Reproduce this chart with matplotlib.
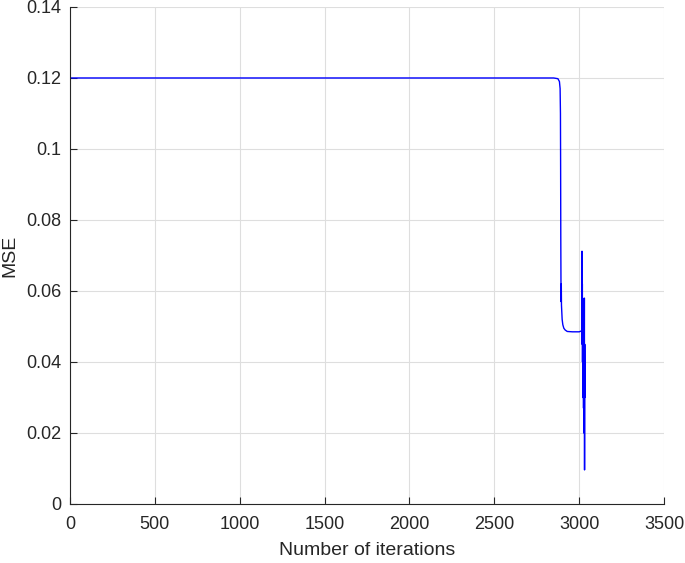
import matplotlib
matplotlib.use("Agg")
import matplotlib.pyplot as plt

# MSE vs iteration
iters = [0, 500, 1000, 1500, 2000, 2500, 2850, 2875, 2884, 2888, 2890,
         2891, 2892, 2893, 2894, 2895, 2896, 2898, 2900, 2904, 2910,
         2918, 2930, 2960, 3000, 3012,
         3016, 3017, 3018, 3019, 3020, 3021, 3022, 3023, 3024, 3025,
         3026, 3027, 3028, 3029, 3030, 3031, 3032, 3033, 3034, 3035]
mse = [0.12, 0.12, 0.12, 0.12, 0.12, 0.12, 0.12, 0.1198, 0.119, 0.117, 0.11,
       0.095, 0.075, 0.063, 0.057, 0.062, 0.056, 0.054, 0.052, 0.0505, 0.0495,
       0.049, 0.0486, 0.0485, 0.0485, 0.0487,
       0.049, 0.0712, 0.045, 0.062, 0.040, 0.058, 0.030, 0.056, 0.035, 0.057,
       0.027, 0.055, 0.020, 0.052, 0.035, 0.058, 0.0096, 0.045, 0.030, 0.0335]

xticks = [0, 500, 1000, 1500, 2000, 2500, 3000, 3500]
yticks = [0, 0.02, 0.04, 0.06, 0.08, 0.1, 0.12, 0.14]
yticklabels = ['0', '0.02', '0.04', '0.06', '0.08', '0.1', '0.12', '0.14']

plt.rcParams['font.family'] = ['Liberation Sans', 'DejaVu Sans']

fig = plt.figure(figsize=(6.85, 5.63), dpi=100)
ax = fig.add_axes([0.1022, 0.1048, 0.8671, 0.8828])
ax.plot(iters, mse, color=(0, 0, 1), lw=1.0)

ax.set_xlim(0, 3500)
ax.set_ylim(0, 0.14)
ax.set_xticks(xticks)
ax.set_yticks(yticks)
ax.set_yticklabels(yticklabels)
ax.grid(True, color='#dedede', lw=0.8)
ax.set_axisbelow(True)
for s in ['top', 'right']:
    ax.spines[s].set_visible(False)
for s in ['left', 'bottom']:
    ax.spines[s].set_color('#262626')
    ax.spines[s].set_linewidth(0.8)
ax.tick_params(direction='in', length=5, width=0.8, colors='#262626',
               labelsize=13)
ax.tick_params(axis='x', pad=9)
ax.tick_params(axis='y', pad=6)
ax.set_xlabel('Number of iterations', fontsize=14, color='#262626', labelpad=6)
ax.set_ylabel('MSE', fontsize=14, color='#262626', labelpad=6)

fig.savefig('out.png', dpi=100)
